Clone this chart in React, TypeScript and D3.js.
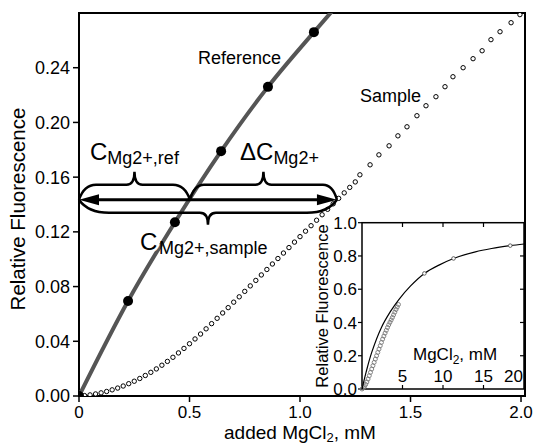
import React from "react";
import * as d3 from "d3";

// main panel: reference titration (filled dots + gray line)
const refX = [0, 0.222, 0.434, 0.643, 0.855, 1.063];
const refY = [0, 0.0695, 0.127, 0.179, 0.226, 0.266];
// line continues past the last dot up to the top edge
const refLineX = [0, 0.222, 0.434, 0.643, 0.855, 1.063, 1.17];
const refLineY = [0, 0.0695, 0.127, 0.179, 0.226, 0.266, 0.286];

// main panel: sample titration (open circles)
const sampleX = [
	0, 0.025, 0.05, 0.075, 0.1, 0.125, 0.15, 0.175, 0.2, 0.225, 0.25, 0.275, 0.3,
	0.325, 0.35, 0.375, 0.4, 0.425, 0.45, 0.475, 0.5, 0.525, 0.55, 0.575, 0.6,
	0.625, 0.65, 0.675, 0.7, 0.725, 0.75, 0.775, 0.8, 0.825, 0.85, 0.875, 0.9,
	0.925, 0.95, 0.975, 1.0, 1.025, 1.05, 1.075, 1.1, 1.125, 1.15, 1.175, 1.2,
	1.225, 1.25, 1.271, 1.317, 1.357, 1.403, 1.443, 1.484, 1.529, 1.57, 1.615,
	1.656, 1.692, 1.738, 1.783, 1.824, 1.864, 1.905, 1.955, 1.995,
];
const sampleY = [
	0, 0.0003, 0.0008, 0.0015, 0.0023, 0.0033, 0.0045, 0.0058, 0.0073, 0.009,
	0.0108, 0.0128, 0.015, 0.0173, 0.0198, 0.0225, 0.0253, 0.0283, 0.0315, 0.0348,
	0.0382, 0.0417, 0.0453, 0.0491, 0.0529, 0.0568, 0.0607, 0.0646, 0.0686,
	0.0725, 0.0765, 0.0805, 0.0845, 0.0885, 0.0925, 0.0965, 0.1005, 0.1045,
	0.1085, 0.1125, 0.1165, 0.1205, 0.1245, 0.1285, 0.1325, 0.1365, 0.1405,
	0.1445, 0.1485, 0.1525, 0.1565, 0.1617, 0.169, 0.1763, 0.1829, 0.1902,
	0.1968, 0.2049, 0.2122, 0.2188, 0.2261, 0.2334, 0.24, 0.2466, 0.2524, 0.2605,
	0.2663, 0.2729, 0.2788,
];

// annotation: horizontal arrow level and where it meets the two curves
const arrowLevel = 0.1435;
const refCross = 0.502;
const sampleCross = 1.167;

const xTicks = [0, 0.5, 1.0, 1.5, 2.0];
const yTicks = [0, 0.04, 0.08, 0.12, 0.16, 0.2, 0.24];

// inset: full range titration
const insetRefX = [0, 0.5, 1.2, 2.4, 3.5, 4.5, 6, 7.7, 9.5, 11.3, 14, 16, 18.3, 20];
const insetRefY = [0, 0.1, 0.22, 0.37, 0.465, 0.535, 0.62, 0.695, 0.745, 0.785, 0.825, 0.845, 0.862, 0.872];
const insetRefMarkX = [7.7, 11.3, 18.3];
const insetRefMarkY = [0.695, 0.785, 0.862];
const insetSampleX = [
	0, 0.15, 0.3, 0.45, 0.6, 0.75, 0.9, 1.05, 1.2, 1.35, 1.5, 1.65, 1.8, 1.95,
	2.1, 2.25, 2.4, 2.55, 2.7, 2.85, 3.0, 3.15, 3.3, 3.45, 3.6, 3.75, 3.9, 4.05,
	4.2, 4.35, 4.5,
];
const insetSampleY = [
	0, 0.006, 0.015, 0.027, 0.042, 0.06, 0.08, 0.1, 0.12, 0.14, 0.16, 0.18, 0.2,
	0.22, 0.24, 0.26, 0.28, 0.3, 0.318, 0.336, 0.353, 0.37, 0.386, 0.401, 0.415,
	0.43, 0.446, 0.462, 0.478, 0.493, 0.508,
];
const insetXTicks = [5, 10, 15, 20];
const insetYTicks = [0, 0.2, 0.4, 0.6, 0.8, 1.0];

const font = "'Liberation Sans', Arial, Helvetica, sans-serif";

// curly brace between xa and xb, dir -1 opens up, +1 opens down
const brace = (xa: number, xb: number, y0: number, dir: number, p: number, t: number, r: number) => {
	const xm = (xa + xb) / 2;
	const yp = y0 + dir * p;
	const yt = y0 + dir * t;
	return `M${xa},${y0} Q${xa + r * 0.3},${yp} ${xa + r},${yp} L${xm - 8},${yp} Q${xm},${yp} ${xm},${yt} Q${xm},${yp} ${xm + 8},${yp} L${xb - r},${yp} Q${xb - r * 0.3},${yp} ${xb},${y0}`;
};

const App = () => {
	const x = d3.scaleLinear().domain([0, 2.018]).range([79, 525]);
	const y = d3.scaleLinear().domain([0, 0.28]).range([396, 13]);
	const ix = d3.scaleLinear().domain([0, 20]).range([362, 524]);
	const iy = d3.scaleLinear().domain([0, 1]).range([389, 222.7]);

	const refLine = d3
		.line<number>()
		.x((d, i) => x(refLineX[i]))
		.y((d) => y(d))
		.curve(d3.curveMonotoneX)(refLineY);

	const insetLine = d3
		.line<number>()
		.x((d, i) => ix(insetRefX[i]))
		.y((d) => iy(d))
		.curve(d3.curveCatmullRom)(insetRefY);

	const ay = y(arrowLevel);
	const ax0 = x(0);
	const ax1 = x(sampleCross);
	const axm = x(refCross);

	return (
		<svg
			width={535}
			height={447}
			style={{ position: "absolute", left: 0, top: 0, background: "#fff" }}
			fontFamily={font}
		>
			<defs>
				<clipPath id="plot">
					<rect x={79} y={13} width={446} height={383} />
				</clipPath>
			</defs>
			<rect x={0} y={0} width={535} height={447} fill="#fff" />

			{/* main frame and axes */}
			<rect x={79} y={13} width={446} height={383} fill="none" stroke="#000" strokeWidth={2} />
			{yTicks.map((v) => (
				<g key={"y" + v}>
					<line x1={73} x2={79} y1={y(v)} y2={y(v)} stroke="#000" strokeWidth={1.5} />
					<text x={70} y={y(v)} dy="0.36em" textAnchor="end" fontSize={18}>
						{v.toFixed(2)}
					</text>
				</g>
			))}
			{xTicks.map((v) => (
				<g key={"x" + v}>
					<line x1={x(v)} x2={x(v)} y1={396} y2={402} stroke="#000" strokeWidth={1.5} />
					<text x={x(v)} y={418} textAnchor="middle" fontSize={17}>
						{v === 0 ? "0" : v.toFixed(1)}
					</text>
				</g>
			))}
			<text x={300} y={439} textAnchor="middle" fontSize={19}>
				added MgCl<tspan fontSize={13} dy={3}>2</tspan>
				<tspan dy={-3}>, mM</tspan>
			</text>
			<text transform="translate(25,209) rotate(-90)" textAnchor="middle" fontSize={20.5}>
				Relative Fluorescence
			</text>

			{/* data */}
			<g clipPath="url(#plot)">
				<path d={refLine || ""} fill="none" stroke="#555" strokeWidth={4} />
				{sampleX.map((v, i) => (
					<circle key={"s" + i} cx={x(v)} cy={y(sampleY[i])} r={2.2} fill="#fff" stroke="#000" strokeWidth={1} />
				))}
				{refX.map((v, i) => (
					<circle key={"r" + i} cx={x(v)} cy={y(refY[i])} r={5} fill="#000" />
				))}
			</g>

			{/* annotation */}
			<line x1={ax0 + 16} x2={ax1 - 16} y1={ay} y2={ay} stroke="#000" strokeWidth={3} />
			<polygon points={`${ax0},${ay} ${ax0 + 20},${ay - 5.5} ${ax0 + 20},${ay + 5.5}`} fill="#000" />
			<polygon points={`${ax1},${ay} ${ax1 - 20},${ay - 5.5} ${ax1 - 20},${ay + 5.5}`} fill="#000" />
			<g fill="none" stroke="#000" strokeWidth={2.5}>
				<path d={brace(ax0, axm, ay, -1, 15, 28, 17)} />
				<path d={brace(axm, ax1, ay, -1, 15, 28, 14)} />
				<path d={brace(ax0, ax1, ay, 1, 13, 25, 30)} />
			</g>

			<text x={90} y={160}>
				<tspan fontSize={24}>C</tspan>
				<tspan fontSize={18} dy={4}>Mg2+,ref</tspan>
			</text>
			<text x={240} y={160}>
				<tspan fontSize={24}>ΔC</tspan>
				<tspan fontSize={18} dy={4}>Mg2+</tspan>
			</text>
			<text x={140} y={250} stroke="#fff" strokeWidth={5} style={{ paintOrder: "stroke" }}>
				<tspan fontSize={24}>C</tspan>
			</text>
			<text x={159} y={254} fontSize={18}>
				Mg2+,sample
			</text>
			<text x={198} y={63.5} fontSize={18}>
				Reference
			</text>
			<text x={360} y={102} fontSize={18}>
				Sample
			</text>

			{/* inset */}
			<rect x={362} y={222.7} width={162} height={166.3} fill="#fff" stroke="#000" strokeWidth={1.5} />
			{insetYTicks.map((v) => (
				<g key={"iy" + v}>
					<line x1={358} x2={362} y1={iy(v)} y2={iy(v)} stroke="#000" strokeWidth={1.2} />
					{v > 0 && v < 1 && (
						<line x1={520} x2={524} y1={iy(v)} y2={iy(v)} stroke="#000" strokeWidth={1.2} />
					)}
					<text x={357} y={iy(v)} dy="0.36em" textAnchor="end" fontSize={17}>
						{v.toFixed(1)}
					</text>
				</g>
			))}
			{insetXTicks.map((v) => (
				<g key={"ix" + v}>
					{v < 20 && (
						<>
							<line x1={ix(v)} x2={ix(v)} y1={222.7} y2={227} stroke="#000" strokeWidth={1.2} />
							<line x1={ix(v)} x2={ix(v)} y1={389} y2={385} stroke="#000" strokeWidth={1.2} />
						</>
					)}
					<text
						x={v === 20 ? ix(v) - 1 : ix(v)}
						y={382}
						textAnchor={v === 20 ? "end" : "middle"}
						fontSize={17}
					>
						{v}
					</text>
				</g>
			))}
			<text x={413} y={360} fontSize={17}>
				MgCl<tspan fontSize={12} dy={4}>2</tspan>
				<tspan dy={-4}>, mM</tspan>
			</text>
			<text transform="translate(328,306) rotate(-90)" textAnchor="middle" fontSize={16.5}>
				Relative Fluorescence
			</text>
			{insetSampleX.map((v, i) => (
				<circle key={"is" + i} cx={ix(v)} cy={iy(insetSampleY[i])} r={2} fill="none" stroke="#777" strokeWidth={0.9} />
			))}
			<path d={insetLine || ""} fill="none" stroke="#000" strokeWidth={1.2} />
			{insetRefMarkX.map((v, i) => (
				<circle key={"im" + i} cx={ix(v)} cy={iy(insetRefMarkY[i])} r={1.8} fill="#fff" stroke="#555" strokeWidth={0.9} />
			))}
		</svg>
	);
};

export default App;
